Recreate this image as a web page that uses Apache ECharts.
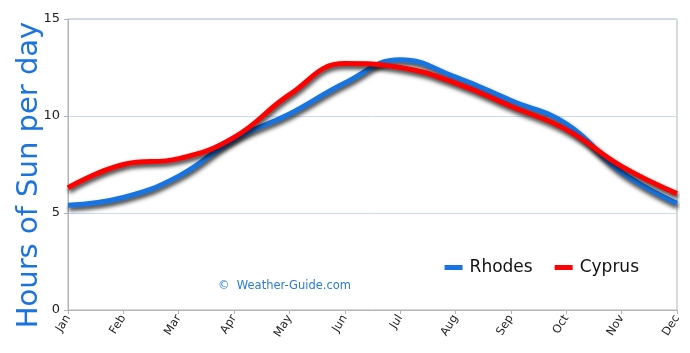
<!DOCTYPE html>
<html><head><meta charset="utf-8">
<script src="https://cdn.jsdelivr.net/npm/echarts@6/dist/echarts.min.js"></script>
<style>html,body{margin:0;padding:0;background:#fff}#c{width:690px;height:353px}</style>
</head><body><div id="c"></div>
<script>
const months = ['Jan','Feb','Mar','Apr','May','Jun','Jul','Aug','Sep','Oct','Nov','Dec'];
const rhodes = [5.4, 5.8, 6.9, 8.8, 10.1, 11.7, 12.9, 12.0, 10.8, 9.6, 7.1, 5.5];
const cyprus = [6.3, 7.5, 7.8, 8.9, 11.1, 12.7, 12.5, 11.7, 10.5, 9.3, 7.4, 6.0];
const yTicks = [0, 5, 10, 15];
const chart = echarts.init(document.getElementById('c'));
const shadow = {shadowColor:'rgba(0,0,0,0.8)', shadowBlur:4, shadowOffsetY:3, shadowOffsetX:1};
chart.setOption({
  animation:false,
  grid:{left:68,right:13,top:19,bottom:43,show:true,borderColor:'#b4b4b4',borderWidth:1},
  legend:{right:46,top:254,itemGap:22,itemWidth:18,itemHeight:5,icon:'rect',
    textStyle:{fontFamily:'DejaVu Sans',fontSize:17,color:'#111',padding:[0,0,0,2]},
    data:['Rhodes','Cyprus']},
  graphic:[
    {type:'text',x:218,y:280,style:{text:'©  Weather-Guide.com',fill:'#2a7ae2',font:'11.5px "DejaVu Sans"'}},
    {type:'text',x:29,y:175,rotation:Math.PI/2,style:{text:'Hours of Sun per day',fill:'#1a73e0',font:'29px "DejaVu Sans"',textAlign:'center',textVerticalAlign:'middle'}}
  ],
  xAxis:{type:'category',data:months,boundaryGap:false,
    axisLine:{lineStyle:{color:'#b4b4b4'}},axisTick:{show:true,alignWithLabel:true,length:4,lineStyle:{color:'#b4b4b4'}},
    axisLabel:{rotate:58,fontSize:11.5,color:'#222',fontFamily:'DejaVu Sans',margin:6},splitLine:{show:false}},
  yAxis:{type:'value',min:0,max:15,interval:5,
    axisLine:{show:true,lineStyle:{color:'#b4b4b4'}},axisTick:{show:true,length:4,lineStyle:{color:'#b4b4b4'}},
    axisLabel:{fontSize:13,color:'#222',fontFamily:'DejaVu Sans',margin:8,formatter:v=>yTicks.includes(v)?String(v):''},
    splitLine:{lineStyle:{color:'#c8dcf0'}}},
  series:[
    {name:'Rhodes',type:'line',data:rhodes,smooth:0.45,symbol:'none',itemStyle:{color:'#1874e0'},
     lineStyle:Object.assign({width:5,color:'#1874e0'},shadow)},
    {name:'Cyprus',type:'line',data:cyprus,smooth:0.45,symbol:'none',itemStyle:{color:'#ff0000'},
     lineStyle:Object.assign({width:5,color:'#ff0000'},shadow)}
  ]
});
</script></body></html>
